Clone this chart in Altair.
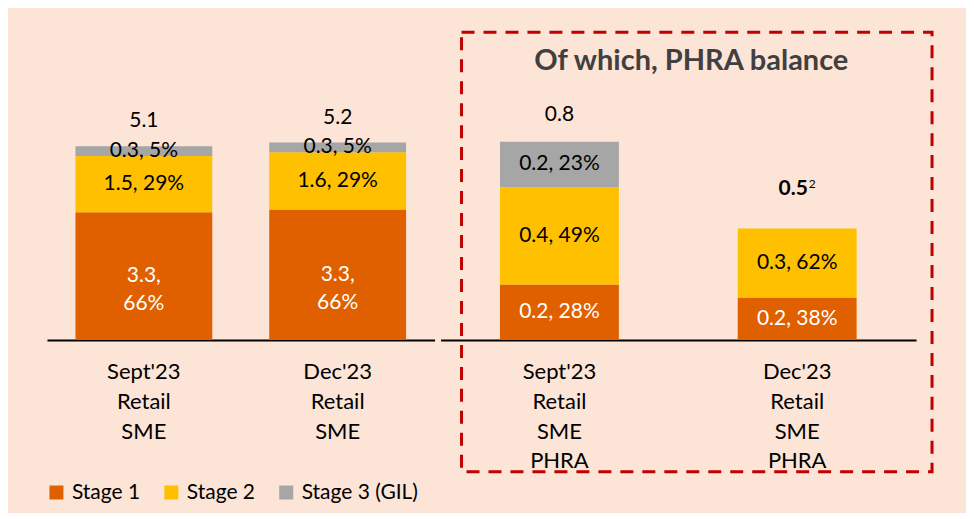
import altair as alt
import pandas as pd

stages = ["Stage 1", "Stage 2", "Stage 3 (GIL)"]
stage_colors = ["#E06000", "#FFC000", "#A6A6A6"]

left_cats = ["Sept'23|Retail|SME", "Dec'23|Retail|SME"]
left_totals = [5.1, 5.2]
left_total_labels = ["5.1", "5.2"]
left_values = {"Stage 1": [3.3, 3.3], "Stage 2": [1.5, 1.6], "Stage 3 (GIL)": [0.3, 0.3]}
left_pcts = {"Stage 1": [66, 66], "Stage 2": [29, 29], "Stage 3 (GIL)": [5, 5]}

right_cats = ["Sept'23|Retail|SME|PHRA", "Dec'23|Retail|SME|PHRA"]
right_totals = [0.8, 0.45]
right_total_labels = ["0.8", "0.5"]
right_total_notes = ["", "2"]
right_values = {"Stage 1": [0.2, 0.2], "Stage 2": [0.4, 0.3], "Stage 3 (GIL)": [0.2, None]}
right_pcts = {"Stage 1": [28, 38], "Stage 2": [49, 62], "Stage 3 (GIL)": [23, None]}

panel_title = "Of which, PHRA balance"

FONT = "Lato"


def build(cats, totals, values, pcts, wrap_first):
    rows = []
    for i, c in enumerate(cats):
        for j, s in enumerate(stages):
            v = values[s][i]
            p = pcts[s][i]
            if v is None:
                continue
            sep = ",|" if (wrap_first and j == 0) else ", "
            rows.append({
                "cat": c, "stage": s, "order": j,
                "height": totals[i] * p / 100.0,
                "label": f"{v}{sep}{p}%",
            })
    return pd.DataFrame(rows)


left_df = build(left_cats, left_totals, left_values, left_pcts, True)
right_df = build(right_cats, right_totals, right_values, right_pcts, False)
left_tot = pd.DataFrame({"cat": left_cats, "total": left_totals, "tlabel": left_total_labels})
right_tot = pd.DataFrame({"cat": right_cats, "total": right_totals,
                          "tlabel": right_total_labels, "note": right_total_notes})

color = alt.Color("stage:N", scale=alt.Scale(domain=stages, range=stage_colors),
                  legend=alt.Legend(title=None, orient="none", direction="horizontal",
                                    legendX=-1, legendY=462, symbolType="square",
                                    symbolSize=196, symbolStrokeWidth=0,
                                    labelFontSize=21, labelColor="#000000",
                                    labelFont=FONT, columnPadding=20, labelOffset=5))


def xenc(cats, pin, pout):
    return alt.X("cat:N", sort=cats, title=None,
                 scale=alt.Scale(paddingInner=pin, paddingOuter=pout),
                 axis=alt.Axis(labelAngle=0, ticks=False, domainColor="#000000",
                               domainWidth=2, labelFontSize=22, labelFont=FONT,
                               labelColor="#000000", labelLineHeight=29.7,
                               labelPadding=22, labelBaseline="top",
                               labelExpr="split(datum.label, '|')"))


def panel(df, cats, dom, pin, pout):
    yscale = alt.Scale(domain=dom)
    x = xenc(cats, pin, pout)
    bars = alt.Chart(df).mark_bar().encode(
        x=x,
        y=alt.Y("height:Q", stack="zero", scale=yscale, axis=None),
        color=color,
        order=alt.Order("order:Q"),
    )
    labels = alt.Chart(df).transform_stack(
        stack="height", groupby=["cat"], as_=["v0", "v1"],
        sort=[alt.SortField("order")]
    ).transform_calculate(
        mid="(datum.v0 + datum.v1) / 2",
        lines="split(datum.label, '|')",
    ).mark_text(fontSize=21, font=FONT, baseline="middle", lineHeight=28).encode(
        x=alt.X("cat:N", sort=cats),
        y=alt.Y("mid:Q", scale=yscale),
        text="lines:N",
        color=alt.condition("datum.stage == 'Stage 1'", alt.value("#FFFFFF"), alt.value("#000000")),
    )
    return bars, labels, yscale


lb, ll, lys = panel(left_df, left_cats, [0, 8.42], 0.294, 0.147)
ltot = alt.Chart(left_tot).mark_text(fontSize=21, font=FONT, dy=-25, color="#000000").encode(
    x=alt.X("cat:N", sort=left_cats), y=alt.Y("total:Q", scale=lys), text="tlabel:N")
left = alt.layer(lb, ll, ltot).properties(width=388, height=320)

rb, rl, rys = panel(right_df, right_cats, [0, 1.29], 0.5, 0.25)
rtot1 = alt.Chart(right_tot).transform_filter(f"datum.cat == \"{right_cats[0]}\"").mark_text(
    fontSize=21, font=FONT, dy=-27, color="#000000").encode(
    x=alt.X("cat:N", sort=right_cats), y=alt.Y("total:Q", scale=rys), text="tlabel:N")
rtot2 = alt.Chart(right_tot).transform_filter(f"datum.cat == \"{right_cats[1]}\"").mark_text(
    fontSize=21, font=FONT, fontWeight="bold", dy=-39, dx=-4, color="#000000").encode(
    x=alt.X("cat:N", sort=right_cats), y=alt.Y("total:Q", scale=rys), text="tlabel:N")
rnote = alt.Chart(right_tot).transform_filter(f"datum.cat == \"{right_cats[1]}\"").mark_text(
    fontSize=12, font=FONT, dy=-44, dx=15, color="#000000").encode(
    x=alt.X("cat:N", sort=right_cats), y=alt.Y("total:Q", scale=rys), text="note:N")
box = alt.Chart(pd.DataFrame({"a": [0]})).mark_rect(
    filled=False, stroke="#C00000", strokeWidth=3, strokeDash=[13, 9]).encode(
    x=alt.value(21), x2=alt.value(492), y=alt.value(12), y2=alt.value(452))
title = alt.Chart(pd.DataFrame({"t": [panel_title]})).mark_text(
    fontSize=29, font=FONT, fontWeight="bold", color="#404040", baseline="middle").encode(
    x=alt.value(251), y=alt.value(41), text="t:N")
right = alt.layer(rb, rl, rtot1, rtot2, rnote, box, title).properties(width=476, height=320)

chart = alt.hconcat(left, right, spacing=6).resolve_scale(
    color="shared", x="independent", y="independent"
).resolve_legend(color="shared").properties(
    background="#FCE4D6",
    padding={"left": 38, "top": 12, "right": 32, "bottom": 10},
).configure(font=FONT).configure_view(strokeWidth=0, stroke="transparent")

chart.save("out.html", embed_options={"renderer": "svg", "actions": False})
